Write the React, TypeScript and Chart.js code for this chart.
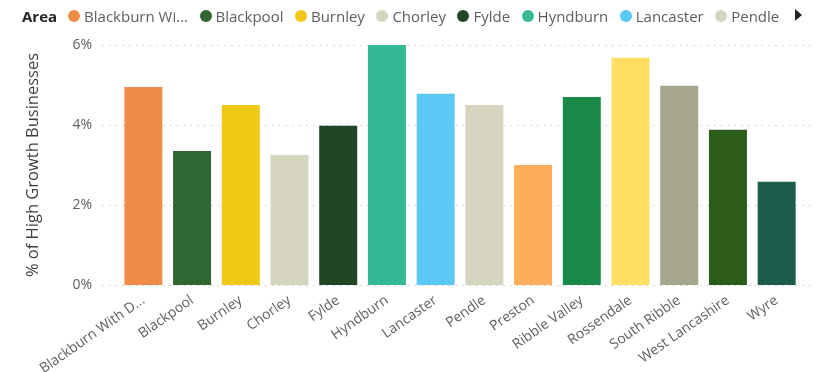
import React, { useEffect, useRef } from "react";
import { Chart, registerables } from "chart.js";

Chart.register(...registerables);

const categories = [
  "Blackburn With Darwen",
  "Blackpool",
  "Burnley",
  "Chorley",
  "Fylde",
  "Hyndburn",
  "Lancaster",
  "Pendle",
  "Preston",
  "Ribble Valley",
  "Rossendale",
  "South Ribble",
  "West Lancashire",
  "Wyre",
];

const values = [4.95, 3.35, 4.5, 3.25, 3.98, 6.0, 4.78, 4.5, 3.0, 4.7, 5.68, 4.98, 3.88, 2.58];

const colors = [
  "#F08C48",
  "#2F6632",
  "#F0C816",
  "#D6D5C0",
  "#224526",
  "#34B995",
  "#5BC8F5",
  "#D6D5C0",
  "#FDAE5A",
  "#198A48",
  "#FEDF64",
  "#A5A68B",
  "#2C5C1A",
  "#1C5C4C",
];

const yTicks = [0, 2, 4, 6];
const legendTitle = "Area";
const yTitle = "% of High Growth Businesses";
const legendVisibleCount = 8;

const FONT = "'Open Sans', 'Noto Sans', sans-serif";

function truncate(s: string, n: number) {
  return s.length > n ? s.slice(0, n) + "..." : s;
}

const dottedGrid = {
  id: "dottedGrid",
  beforeDatasetsDraw(chart: any) {
    const { ctx, chartArea, scales } = chart;
    const y = scales.y;
    ctx.save();
    ctx.strokeStyle = "#C8C6C4";
    ctx.lineWidth = 1;
    ctx.setLineDash([1.5, 5.3]);
    y.ticks.forEach((t: any) => {
      const py = Math.round(y.getPixelForValue(t.value)) + 0.5;
      ctx.beginPath();
      ctx.moveTo(chartArea.left - 17, py);
      ctx.lineTo(chartArea.right + 14, py);
      ctx.stroke();
    });
    ctx.restore();
  },
};

export default function App() {
  const ref = useRef<HTMLCanvasElement>(null);

  useEffect(() => {
    if (!ref.current) return;
    const chart = new Chart(ref.current, {
      type: "bar",
      data: {
        labels: categories,
        datasets: [
          {
            label: legendTitle,
            data: values,
            backgroundColor: colors,
            borderWidth: 0,
            categoryPercentage: 1,
            barPercentage: 0.78,
          },
        ],
      },
      plugins: [dottedGrid],
      options: {
        animation: false,
        responsive: false,
        maintainAspectRatio: false,
        layout: { padding: { top: 45, right: 24, bottom: 0, left: 0 } },
        plugins: {
          legend: { display: false },
          tooltip: { enabled: false },
        },
        scales: {
          x: {
            type: "category",
            offset: true,
            grid: { display: false, drawTicks: false },
            border: { display: false },
            ticks: {
              autoSkip: false,
              minRotation: 35,
              maxRotation: 35,
              padding: 7,
              color: "#605E5C",
              font: { family: FONT, size: 14 },
              callback: (_v: any, i: number) => truncate(categories[i], 16),
            },
            afterFit: (s: any) => {
              s.height = 87;
            },
          },
          y: {
            min: 0,
            max: 6,
            afterBuildTicks: (s: any) => {
              s.ticks = yTicks.map((v) => ({ value: v }));
            },
            grid: { display: false, drawTicks: false },
            border: { display: false },
            ticks: {
              padding: 27,
              color: "#605E5C",
              font: { family: FONT, size: 14 },
              callback: (v: any) => v + "%",
            },
            title: {
              display: true,
              text: yTitle,
              color: "#404040",
              font: { family: FONT, size: 16.5 },
              padding: { top: 23, bottom: 0 },
            },
            afterFit: (s: any) => {
              s.width = 119;
            },
          },
        },
      },
    });
    return () => chart.destroy();
  }, []);

  return (
    <div style={{ position: "fixed", left: 0, top: 0, width: 825, height: 372, background: "#fff", overflow: "hidden" }}>
      <canvas ref={ref} width={825} height={372} style={{ position: "absolute", left: 0, top: 0, width: 825, height: 372 }} />
      <div
        style={{
          position: "absolute",
          left: 22,
          top: 5,
          height: 22,
          display: "flex",
          alignItems: "center",
          fontFamily: FONT,
          fontSize: 15,
          whiteSpace: "nowrap",
        }}
      >
        <span style={{ fontWeight: 700, color: "#252423", marginRight: 11 }}>{legendTitle}</span>
        {categories.slice(0, legendVisibleCount).map((c, i) => (
          <span key={c} style={{ display: "flex", alignItems: "center", marginRight: 11.5 }}>
            <span
              style={{
                display: "inline-block",
                width: 12,
                height: 12,
                borderRadius: "50%",
                background: colors[i],
                marginRight: 4,
              }}
            />
            <span style={{ color: "#605E5C" }}>{truncate(c, 12)}</span>
          </span>
        ))}
      </div>
      <div
        style={{
          position: "absolute",
          left: 795,
          top: 9,
          width: 0,
          height: 0,
          borderTop: "6px solid transparent",
          borderBottom: "6px solid transparent",
          borderLeft: "7px solid #252423",
        }}
      />
    </div>
  );
}
